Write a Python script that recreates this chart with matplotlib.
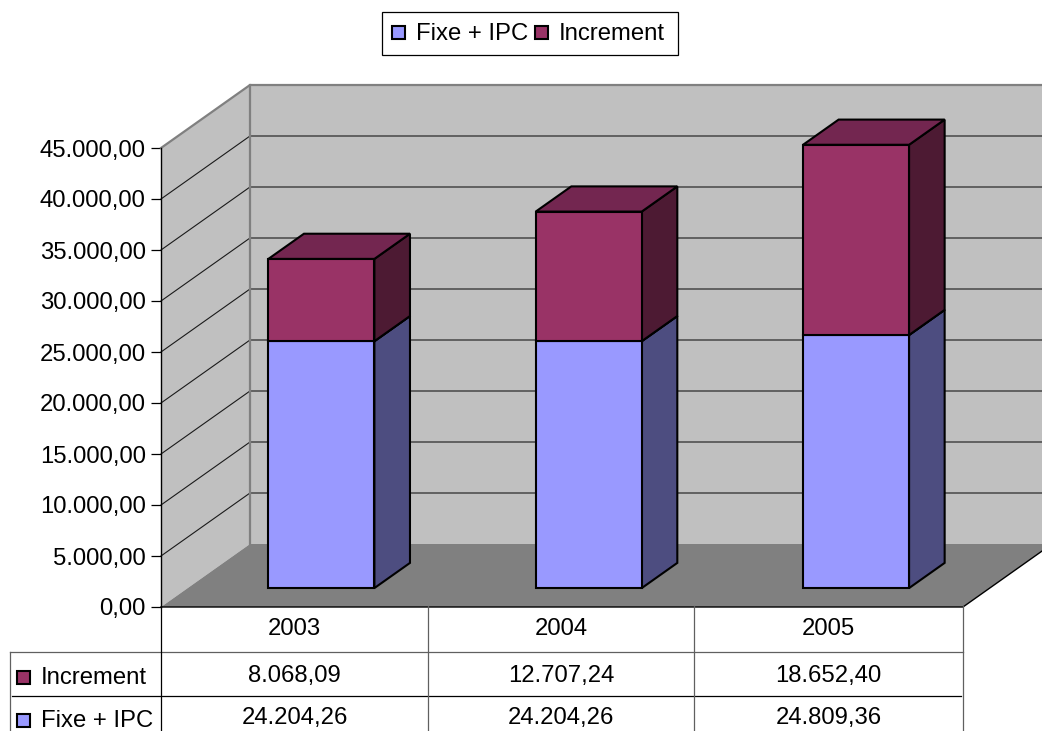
import matplotlib
matplotlib.use('Agg')
import matplotlib.pyplot as plt
from matplotlib.patches import Polygon, Rectangle

plt.rcParams['font.family'] = ['Liberation Sans', 'DejaVu Sans']

years = ['2003', '2004', '2005']
fixe_ipc = [24204.26, 24204.26, 24809.36]
increment = [8068.09, 12707.24, 18652.40]
y_ticks = [0, 5000, 10000, 15000, 20000, 25000, 30000, 35000, 40000, 45000]

FIXE_COLOR = '#9999FF'
INCR_COLOR = '#993366'
WALL_COLOR = '#C0C0C0'
FLOOR_COLOR = '#808080'
FONT_SIZE = 17.2

W, H = 1042, 731
DPI = 100
# depth of the 3D box, in data units of the front plane
DEPTH_X = 89 / 802 * 3
DEPTH_Y = 63 / 459 * 45000
BAR_WIDTH = 0.3966


def es_num(v):
    """1234.5 -> 1.234,50"""
    return f'{v:,.2f}'.replace(',', '#').replace('.', ',').replace('#', '.')


def project(x, y, d):
    """Move a point of the front plane back by depth d (0..1)"""
    return (x + d * DEPTH_X, y + d * DEPTH_Y)


def draw_walls(ax):
    y_max = y_ticks[-1]
    x_max = len(years)
    ax.add_patch(Polygon([project(0, 0, 0), project(0, 0, 1), project(0, y_max, 1), project(0, y_max, 0)],
                         fc=WALL_COLOR, ec='none', zorder=1, clip_on=False))
    ax.add_patch(Polygon([project(0, 0, 1), project(x_max, 0, 1), project(x_max, y_max, 1), project(0, y_max, 1)],
                         fc=WALL_COLOR, ec='none', zorder=1, clip_on=False))
    ax.add_patch(Polygon([project(0, 0, 0), project(x_max, 0, 0), project(x_max, 0, 1), project(0, 0, 1)],
                         fc=FLOOR_COLOR, ec='none', zorder=2, clip_on=False))

    # gridlines run along the side wall and then the back wall
    for t in y_ticks[1:-1]:
        pts = [project(0, t, 0), project(0, t, 1), project(x_max, t, 1)]
        ax.plot(*zip(*pts), color='#1A1A1A', lw=0.8, zorder=1.5, clip_on=False)

    # grey outline of the walls
    pts = [project(0, y_max, 0), project(0, y_max, 1), project(x_max, y_max, 1)]
    ax.plot(*zip(*pts), color='#808080', lw=1.6, zorder=1.6, clip_on=False)
    pts = [project(0, 0, 1), project(0, y_max, 1)]
    ax.plot(*zip(*pts), color='#808080', lw=1.6, zorder=1.6, clip_on=False)

    # front and right edge of the floor
    pts = [project(0, 0, 0), project(x_max, 0, 0), project(x_max, 0, 1)]
    ax.plot(*zip(*pts), color='black', lw=1.0, zorder=2.5, clip_on=False)


def draw_block(ax, x0, x1, y0, y1, color, side_color, top_color, z):
    d0, d1 = 0.3, 0.7
    edge = dict(ec='black', lw=1.5, joinstyle='miter', clip_on=False, zorder=z)
    ax.add_patch(Polygon([project(x1, y0, d0), project(x1, y0, d1), project(x1, y1, d1), project(x1, y1, d0)],
                         fc=side_color, **edge))
    ax.add_patch(Polygon([project(x0, y1, d0), project(x1, y1, d0), project(x1, y1, d1), project(x0, y1, d1)],
                         fc=top_color, **edge))
    ax.add_patch(Polygon([project(x0, y0, d0), project(x1, y0, d0), project(x1, y1, d0), project(x0, y1, d0)],
                         fc=color, **edge))


def draw_bars(ax):
    for i in range(len(years)):
        x0 = i + 0.5 - BAR_WIDTH / 2
        x1 = i + 0.5 + BAR_WIDTH / 2
        draw_block(ax, x0, x1, 0, fixe_ipc[i], FIXE_COLOR, '#4D4D80', '#737399', 3)
        draw_block(ax, x0, x1, fixe_ipc[i], fixe_ipc[i] + increment[i], INCR_COLOR, '#4D1A33', '#732650', 4)


def key(ov, x, y, color):
    ov.add_patch(Rectangle((x, y), 13, 13, fc=color, ec='black', lw=1.5))


def draw_table(ov):
    cols = [161, 428, 694, 963]
    rows = [606, 652, 696, 731]
    ov.plot([10, 963], [rows[1], rows[1]], color='#606060', lw=0.9)
    ov.plot([12, 961], [rows[2], rows[2]], color='black', lw=0.9)
    ov.plot([10, 10], [rows[1], rows[3]], color='#606060', lw=0.9)
    ov.plot([cols[0], cols[0]], [rows[0], rows[3]], color='black', lw=0.9)
    for c in cols[1:]:
        ov.plot([c, c], [rows[0], rows[3]], color='#606060', lw=0.9)

    text = dict(fontsize=FONT_SIZE, ha='center', va='center', color='black')
    for i in range(len(years)):
        xc = (cols[i] + cols[i + 1]) / 2
        ov.text(xc, 629, years[i], **text)
        ov.text(xc, 676, es_num(increment[i]), **text)
        ov.text(xc, 718, es_num(fixe_ipc[i]), **text)

    key(ov, 17, 671, INCR_COLOR)
    ov.text(41, 684, 'Increment', fontsize=FONT_SIZE, va='baseline')
    key(ov, 17, 714, FIXE_COLOR)
    ov.text(41, 727, 'Fixe + IPC', fontsize=FONT_SIZE, va='baseline')


def draw_legend(ov):
    ov.add_patch(Rectangle((382, 12), 296, 43, fc='white', ec='black', lw=0.9))
    key(ov, 392, 26, FIXE_COLOR)
    ov.text(416, 40, 'Fixe + IPC', fontsize=FONT_SIZE, va='baseline')
    key(ov, 535, 26, INCR_COLOR)
    ov.text(559, 40, 'Increment', fontsize=FONT_SIZE, va='baseline')


def main():
    fig = plt.figure(figsize=(W / DPI, H / DPI), dpi=DPI, facecolor='white')

    ax = fig.add_axes([161 / W, (H - 607) / H, 802 / W, 459 / H])
    ax.set_xlim(0, len(years))
    ax.set_ylim(0, y_ticks[-1])
    ax.patch.set_visible(False)
    for name in ['top', 'right', 'bottom']:
        ax.spines[name].set_visible(False)
    ax.spines['left'].set_linewidth(1.0)
    ax.spines['left'].set_zorder(5)
    ax.set_xticks([])
    ax.set_yticks(y_ticks)
    ax.set_yticklabels([es_num(t) for t in y_ticks], fontsize=FONT_SIZE)
    ax.tick_params(axis='y', length=7, width=0.9, pad=4)

    draw_walls(ax)
    draw_bars(ax)

    # overlay in pixel units for the data table and the legend
    ov = fig.add_axes([0, 0, 1, 1])
    ov.set_xlim(0, W)
    ov.set_ylim(H, 0)
    ov.axis('off')
    ov.patch.set_visible(False)
    draw_table(ov)
    draw_legend(ov)

    fig.savefig('out.png', dpi=DPI)


if __name__ == '__main__':
    main()
